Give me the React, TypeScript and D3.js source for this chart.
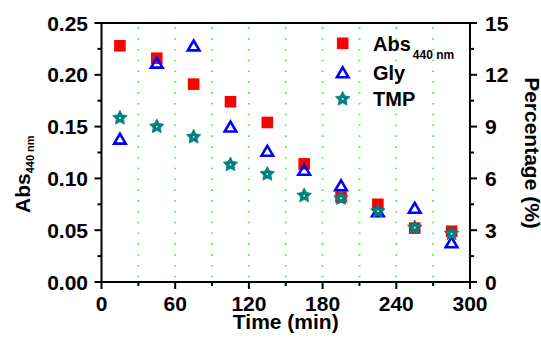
import React from "react";
import * as d3 from "d3";

const times = [15, 45, 75, 105, 135, 165, 195, 225, 255, 285];
const absVals = [0.228, 0.216, 0.191, 0.174, 0.154, 0.114, 0.082, 0.075, 0.052, 0.049];
const glyVals = [8.3, 12.7, 13.7, 9.0, 7.6, 6.5, 5.6, 4.1, 4.3, 2.3];
const tmpVals = [9.5, 9.0, 8.4, 6.8, 6.25, 5.0, 4.85, 4.1, 3.15, 2.8];

const xTicks = [0, 60, 120, 180, 240, 300];
const xMinor = [30, 90, 150, 210, 270];
const gridTimes = [30, 60, 90, 120, 150, 180, 210, 240, 270];
const yLeftTicks = [0, 0.05, 0.1, 0.15, 0.2, 0.25];
const yLeftMinor = [0.025, 0.075, 0.125, 0.175, 0.225];
const yRightTicks = [0, 3, 6, 9, 12, 15];
const yRightMinor = [1.5, 4.5, 7.5, 10.5, 13.5];

const legendItems = ["Abs", "Gly", "TMP"];

const W = 541;
const H = 339;
const L = 101.5, R = 470, T = 23, B = 282;

const x = d3.scaleLinear().domain([0, 300]).range([L, R]);
const yL = d3.scaleLinear().domain([0, 0.25]).range([B, T]);
const yR = d3.scaleLinear().domain([0, 15]).range([B, T]);

const FONT = "'Liberation Sans', Arial, Helvetica, sans-serif";

const starType = {
  draw(ctx: any, size: number) {
    const ro = Math.sqrt(size);
    const ri = ro * 0.5;
    for (let i = 0; i < 10; i++) {
      const r = i % 2 === 0 ? ro : ri;
      const a = (Math.PI / 5) * i - Math.PI / 2;
      const px = r * Math.cos(a);
      const py = r * Math.sin(a);
      if (i === 0) ctx.moveTo(px, py);
      else ctx.lineTo(px, py);
    }
    ctx.closePath();
  },
};

const triType = {
  draw(ctx: any, size: number) {
    const w = Math.sqrt(size);
    const h = w * 0.85;
    ctx.moveTo(0, -h / 2);
    ctx.lineTo(w / 2, h / 2);
    ctx.lineTo(-w / 2, h / 2);
    ctx.closePath();
  },
};

const starPath = d3.symbol(starType as any, 7.6 * 7.6)() as string;
const triPath = d3.symbol(triType as any, 11.6 * 11.6)() as string;
const sqPath = d3.symbol(d3.symbolSquare, 11.6 * 11.6)() as string;

function Square({ cx, cy }: { cx: number; cy: number }) {
  return <path d={sqPath} transform={`translate(${cx},${cy})`} fill="#ff0000" />;
}
function Tri({ cx, cy }: { cx: number; cy: number }) {
  return (
    <path
      d={triPath}
      transform={`translate(${cx},${cy})`}
      fill="none"
      stroke="#0000ff"
      strokeWidth={2.6}
      strokeLinejoin="miter"
    />
  );
}
function Star({ cx, cy }: { cx: number; cy: number }) {
  return (
    <g transform={`translate(${cx},${cy})`}>
      <path d={starPath} fill="#008080" stroke="#008080" strokeWidth={0.8} strokeLinejoin="round" />
      <circle r={0.9} fill="#ffffff" />
    </g>
  );
}

export default function App() {
  const legendY = [43.3, 72.3, 99];
  const legendX = 342.7;
  const textX = 373;
  return (
    <svg
      width={W}
      height={H}
      style={{ position: "absolute", left: 0, top: 0, background: "#ffffff" }}
      fontFamily={FONT}
      fontWeight="bold"
    >
      <rect x={0} y={0} width={W} height={H} fill="#ffffff" />
      {/* grid */}
      {gridTimes.map((t) => (
        <line
          key={"g" + t}
          x1={x(t)}
          x2={x(t)}
          y1={27.3}
          y2={B}
          stroke="#55ee55"
          strokeWidth={2}
          strokeDasharray="1.6,9.2"
        />
      ))}

      {/* data */}
      {times.map((t, i) => (
        <Square key={"a" + t} cx={x(t)} cy={yL(absVals[i])} />
      ))}
      {times.map((t, i) => (
        <Tri key={"b" + t} cx={x(t)} cy={yR(glyVals[i])} />
      ))}
      {times.map((t, i) => (
        <Star key={"c" + t} cx={x(t)} cy={yR(tmpVals[i])} />
      ))}

      {/* frame */}
      <rect x={L} y={T} width={R - L} height={B - T} fill="none" stroke="#000" strokeWidth={2} />

      {/* left axis ticks */}
      {yLeftTicks.map((v) => (
        <g key={"yl" + v}>
          <line x1={L - 7} x2={L} y1={yL(v)} y2={yL(v)} stroke="#000" strokeWidth={2} />
          <text x={88} y={yL(v)} dy="0.36em" textAnchor="end" fontSize={21}>
            {d3.format(".2f")(v)}
          </text>
        </g>
      ))}
      {yLeftMinor.map((v) => (
        <line key={"ylm" + v} x1={L - 4} x2={L} y1={yL(v)} y2={yL(v)} stroke="#000" strokeWidth={2} />
      ))}

      {/* right axis ticks */}
      {yRightTicks.map((v) => (
        <g key={"yr" + v}>
          <line x1={R} x2={R + 7} y1={yR(v)} y2={yR(v)} stroke="#000" strokeWidth={2} />
          <text x={485} y={yR(v)} dy="0.36em" textAnchor="start" fontSize={21}>
            {v}
          </text>
        </g>
      ))}
      {yRightMinor.map((v) => (
        <line key={"yrm" + v} x1={R} x2={R + 4} y1={yR(v)} y2={yR(v)} stroke="#000" strokeWidth={2} />
      ))}

      {/* bottom axis ticks */}
      {xTicks.map((v) => (
        <g key={"x" + v}>
          <line x1={x(v)} x2={x(v)} y1={B} y2={B + 7} stroke="#000" strokeWidth={2} />
          <text x={x(v)} y={311} textAnchor="middle" fontSize={21}>
            {v}
          </text>
        </g>
      ))}
      {xMinor.map((v) => (
        <line key={"xm" + v} x1={x(v)} x2={x(v)} y1={B} y2={B + 4} stroke="#000" strokeWidth={2} />
      ))}

      {/* axis titles */}
      <text x={(L + R) / 2} y={328.5} textAnchor="middle" fontSize={21}>
        Time (min)
      </text>
      <text transform="translate(29.5,213) rotate(-90)" textAnchor="start" fontSize={21}>
        Abs
        <tspan fontSize={11} dy={4}>
          440 nm
        </tspan>
      </text>
      <text transform="translate(525,153) rotate(90)" textAnchor="middle" fontSize={21}>
        Percentage (%)
      </text>

      {/* legend */}
      <Square cx={legendX} cy={legendY[0]} />
      <Tri cx={legendX} cy={legendY[1]} />
      <Star cx={legendX} cy={legendY[2]} />
      <text x={textX} y={legendY[0] + 7.2} fontSize={20}>
        {legendItems[0]}
        <tspan fontSize={12} dy={8.5} dx={2}>
          440 nm
        </tspan>
      </text>
      <text x={textX} y={legendY[1] + 7.2} fontSize={20}>
        {legendItems[1]}
      </text>
      <text x={textX} y={legendY[2] + 7.2} fontSize={20}>
        {legendItems[2]}
      </text>
    </svg>
  );
}
